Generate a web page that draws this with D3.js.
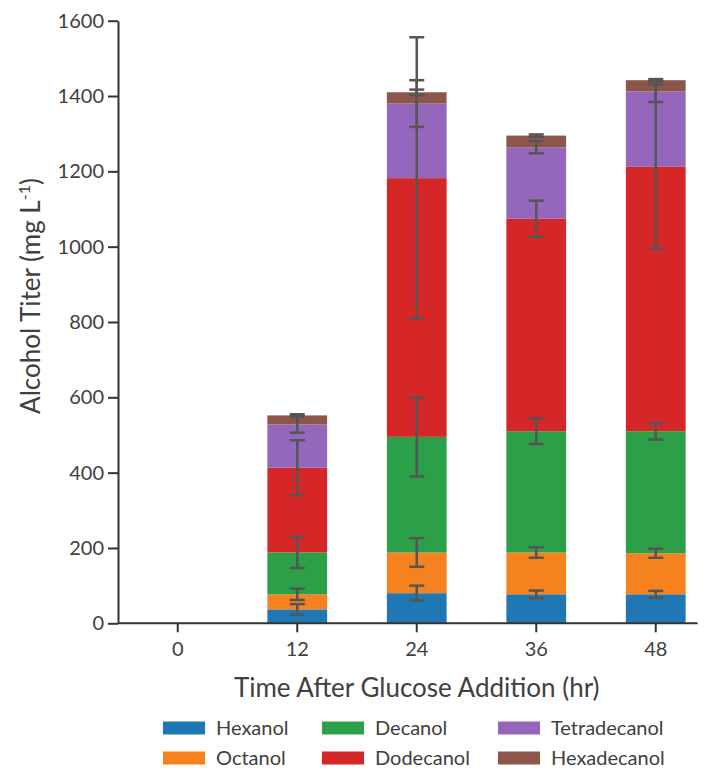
<!DOCTYPE html>
<html>
<head>
<meta charset="utf-8">
<script src="https://cdn.jsdelivr.net/npm/d3@7"></script>
<style>
	body { margin: 0; background: #fff; }
	text { font-family: Lato, "Open Sans", sans-serif; fill: #404040; }
</style>
</head>
<body>
<div id="chart"></div>
<script>
// time points (hr)
var hours = ["0", "12", "24", "36", "48"];
var alcohols = ["Hexanol", "Octanol", "Decanol", "Dodecanol", "Tetradecanol", "Hexadecanol"];

// titers, mg/L
var hexanol      = [0, 37, 80, 77, 77];
var octanol      = [0, 40, 108, 111, 109];
var decanol      = [0, 111, 307, 322, 324];
var dodecanol    = [0, 225, 687, 564, 702];
var tetradecanol = [0, 115, 198, 190, 200];
var hexadecanol  = [0, 24, 30, 31, 30];

// standard deviations
var hexanolSd      = [0, 14, 20, 10, 9];
var octanolSd      = [0, 15, 38, 14, 12];
var decanolSd      = [0, 41, 105, 34, 22];
var dodecanolSd    = [0, 73, 374, 48, 218];
var tetradecanolSd = [0, 22, 62, 16, 28];
var hexadecanolSd  = [0, 3, 7, 3, 3];

var yTicks = [0, 200, 400, 600, 800, 1000, 1200, 1400, 1600];
var colors = ["#1f77b4", "#f5821f", "#2ca048", "#d62728", "#9467bd", "#8c564b"];

var width = 710, height = 773;
var marginLeft = 118, marginTop = 20.7, axisBottom = 623.3;

var values = [hexanol, octanol, decanol, dodecanol, tetradecanol, hexadecanol];
var sds = [hexanolSd, octanolSd, decanolSd, dodecanolSd, tetradecanolSd, hexadecanolSd];

//Build table for d3.stack
var table = hours.map(function(h, i) {
	var row = { hour: h };
	alcohols.forEach(function(a, k) { row[a] = values[k][i]; });
	return row;
});
var series = d3.stack().keys(alcohols)(table);

var svg = d3.select("#chart")
	.append("svg")
	.attr("width", width)
	.attr("height", height);

var x = d3.scaleBand()
	.domain(hours)
	.range([marginLeft, marginLeft + 119.5 * hours.length])
	.paddingInner(0.5)
	.paddingOuter(0.25);

var y = d3.scaleLinear()
	.domain([0, 1600])
	.range([axisBottom, marginTop]);

//Bars
svg.append("g")
	.selectAll("g")
	.data(series)
	.join("g")
	.attr("fill", function(d, k) { return colors[k]; })
	.selectAll("rect")
	.data(function(d) { return d; })
	.join("rect")
	.attr("x", function(d) { return x(d.data.hour); })
	.attr("width", x.bandwidth())
	.attr("y", function(d) { return y(d[1]); })
	.attr("height", function(d) { return y(d[0]) - y(d[1]); });

//Error bars at the top of each segment
var errors = [];
series.forEach(function(s, k) {
	s.forEach(function(d, i) {
		if (values[k][i] > 0)
			errors.push({ hour: d.data.hour, top: d[1], sd: sds[k][i] });
	});
});
var capHalf = 7.5;
var eb = svg.append("g")
	.attr("stroke", "#555")
	.attr("stroke-width", 2.5);
eb.selectAll("line.v")
	.data(errors)
	.join("line")
	.attr("class", "v")
	.attr("x1", function(d) { return x(d.hour) + x.bandwidth() / 2; })
	.attr("x2", function(d) { return x(d.hour) + x.bandwidth() / 2; })
	.attr("y1", function(d) { return y(d.top - d.sd); })
	.attr("y2", function(d) { return y(d.top + d.sd); });
[-1, 1].forEach(function(sign) {
	eb.selectAll("line.c" + (sign > 0 ? "p" : "m"))
		.data(errors)
		.join("line")
		.attr("class", "c" + (sign > 0 ? "p" : "m"))
		.attr("x1", function(d) { return x(d.hour) + x.bandwidth() / 2 - capHalf; })
		.attr("x2", function(d) { return x(d.hour) + x.bandwidth() / 2 + capHalf; })
		.attr("y1", function(d) { return y(d.top + sign * d.sd); })
		.attr("y2", function(d) { return y(d.top + sign * d.sd); });
});

//Axes
var xAxis = svg.append("g")
	.attr("transform", "translate(0," + axisBottom + ")")
	.call(d3.axisBottom(x).tickSize(9).tickPadding(10).tickSizeOuter(0));
xAxis.select(".domain")
	.attr("d", "M" + marginLeft + ",0H" + (x(hours[hours.length - 1]) + x.bandwidth() + 12));

var yAxis = svg.append("g")
	.attr("transform", "translate(" + marginLeft + ",0)")
	.call(d3.axisLeft(y).tickValues(yTicks).tickFormat(d3.format("d"))
		.tickSize(10).tickPadding(4).tickSizeOuter(0));

[xAxis, yAxis].forEach(function(a) {
	a.selectAll("path, line")
		.attr("stroke", "#333")
		.attr("stroke-width", 2);
	a.selectAll("text")
		.style("font-family", "Lato, sans-serif")
		.style("font-size", "20px")
		.attr("fill", "#333");
});

//Titles
svg.append("text")
	.attr("x", (x(hours[0]) + x(hours[hours.length - 1]) + x.bandwidth()) / 2)
	.attr("y", 697)
	.attr("text-anchor", "middle")
	.style("font-size", "26px")
	.text("Time After Glucose Addition (hr)");

var yTitle = svg.append("text")
	.attr("transform", "translate(40,296) rotate(-90)")
	.attr("text-anchor", "middle")
	.style("font-size", "26px");
yTitle.append("tspan").text("Alcohol Titer (mg L");
yTitle.append("tspan").attr("dy", -10).style("font-size", "16px").text("-1");
yTitle.append("tspan").attr("dy", 10).text(")");

//Legend, three columns of two
var legendX = [163, 322, 498], legendY = [728, 758];
var legend = svg.append("g")
	.selectAll("g")
	.data(alcohols)
	.join("g")
	.attr("transform", function(d, k) {
		return "translate(" + legendX[Math.floor(k / 2)] + "," + legendY[k % 2] + ")";
	});
legend.append("rect")
	.attr("y", -6.5)
	.attr("width", 42)
	.attr("height", 13)
	.attr("fill", function(d, k) { return colors[k]; });
legend.append("text")
	.attr("x", 53)
	.attr("dy", "0.35em")
	.style("font-size", "20px")
	.text(function(d) { return d; });
</script>
</body>
</html>
